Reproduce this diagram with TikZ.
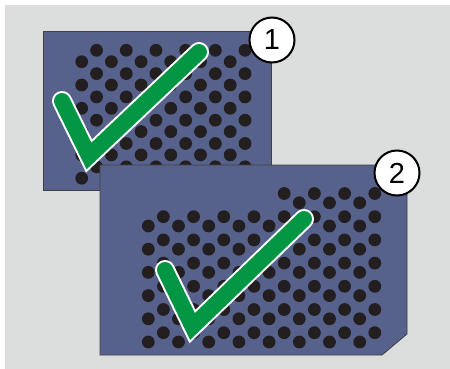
\documentclass[tikz,border=0pt]{standalone}
\usepackage{fontspec}
\newfontfamily\badgefont{Liberation Sans}
\definecolor{backdrop}{RGB}{220,222,221}
\definecolor{slate}{RGB}{86,97,140}
\definecolor{holegray}{RGB}{35,31,32}
\definecolor{checkgreen}{RGB}{0,150,68}

\begin{document}
\begin{tikzpicture}[
    x=1pt, y=-1pt,
    card/.style={draw=black!75, line width=0.8pt, fill=slate, line join=miter},
    hole/.style={fill=holegray},
    tick/.style={draw=checkgreen, line width=16pt, line cap=round, line join=miter,
                 preaction={draw=white, line width=20pt, line cap=round, line join=miter}},
    badge/.style={circle, draw=black, line width=2pt, fill=white,
                  minimum size=45pt, inner sep=0pt,
                  font=\badgefont\fontsize{29}{29}\selectfont}
  ]
  \useasboundingbox (0,0) rectangle (450,369);
  \fill[backdrop] (5,5) rectangle (450,369);

  % plate 1
  \draw[card] (43,31) rectangle (271,190);
  \foreach \i in {0,...,11}{
    \pgfmathsetmacro\hx{81.7+14.85*\i}
    \pgfmathsetmacro\hy{61.7-11.4*mod(\i,2)}
    \foreach \k in {0,...,5}
      \fill[hole] (\hx,\hy+23.3*\k) circle[radius=6.4pt];
  }
  \draw[tick] (62,101) -- (89,156) -- (199,52);

  % plate 2
  \draw[card] (100,165) -- (407,165) -- (407,334) -- (382,355) -- (100,355) -- cycle;
  \foreach \i in {0,...,15}{
    \pgfmathsetmacro\hx{148.3+15.1*\i}
    \pgfmathsetmacro\hy{226-9.3*mod(\i,2)}
    \pgfmathtruncatemacro\kstart{\i>8 ? -1 : 0}
    \foreach \k in {\kstart,...,5}
      \fill[hole] (\hx,\hy+23.2*\k) circle[radius=6.4pt];
  }
  \draw[tick] (165,270) -- (192.5,326.5) -- (304,219);

  \node[badge] (one) at (272,40) {1};
  \node[badge] (two) at (397,173) {2};
\end{tikzpicture}
\end{document}
